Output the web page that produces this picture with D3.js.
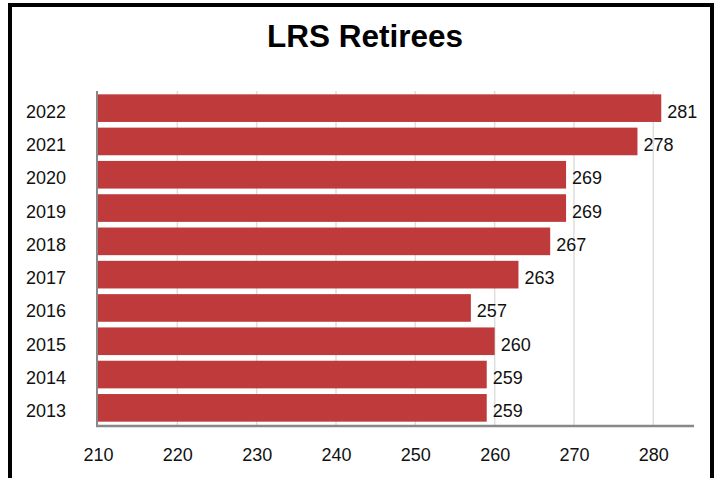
<!DOCTYPE html>
<html>
<head>
<meta charset="utf-8">
<script src="https://cdn.jsdelivr.net/npm/d3@7"></script>
<style>
  html, body { margin: 0; padding: 0; background: #fff; }
  svg { display: block; font-family: "Liberation Sans", Arial, sans-serif; }
</style>
</head>
<body>
<svg id="chart" width="718" height="478"></svg>
<script>
// Retiree counts by year
const years = ["2013", "2014", "2015", "2016", "2017", "2018", "2019", "2020", "2021", "2022"];
const retirees = [259, 259, 260, 257, 263, 267, 269, 269, 278, 281];
const xTicks = [210, 220, 230, 240, 250, 260, 270, 280];
const title = "LRS Retirees";

const data = years.map((y, i) => ({ year: y, value: retirees[i] }));

const svg = d3.select("#chart");

// Outer frame (open at the bottom edge of the page)
svg.append("rect")
  .attr("x", 10).attr("y", 5)
  .attr("width", 702).attr("height", 500)
  .attr("fill", "none")
  .attr("stroke", "#000")
  .attr("stroke-width", 4);

svg.append("text")
  .attr("x", 365).attr("y", 47)
  .attr("text-anchor", "middle")
  .attr("font-size", 31.5)
  .attr("font-weight", "bold")
  .attr("fill", "#000")
  .text(title);

const plotLeft = 98, plotRight = 693, plotTop = 91, plotBottom = 425;

const x = d3.scaleLinear().domain([210, 285]).range([plotLeft, plotRight]);
const y = d3.scaleBand().domain(years).range([plotBottom, plotTop])
  .paddingInner(0.17).paddingOuter(0.1);

// Vertical gridlines
svg.append("g")
  .selectAll("line")
  .data(xTicks.slice(1))
  .join("line")
  .attr("x1", d => x(d)).attr("x2", d => x(d))
  .attr("y1", plotTop).attr("y2", plotBottom)
  .attr("stroke", "#dedede")
  .attr("stroke-width", 1.5);

// Bars
svg.append("g")
  .selectAll("rect")
  .data(data)
  .join("rect")
  .attr("x", x(210))
  .attr("y", d => y(d.year))
  .attr("width", d => x(d.value) - x(210))
  .attr("height", y.bandwidth())
  .attr("fill", "#bf3a3a");

// Value labels
svg.append("g")
  .selectAll("text")
  .data(data)
  .join("text")
  .attr("x", d => x(d.value) + 6)
  .attr("y", d => y(d.year) + y.bandwidth() / 2 + 9.5)
  .attr("font-size", 18)
  .attr("fill", "#111")
  .text(d => d.value);

// Category axis
const yAxis = svg.append("g")
  .attr("transform", `translate(${plotLeft - 1},0)`)
  .call(d3.axisLeft(y).tickSize(0).tickPadding(31));
yAxis.select(".domain").attr("stroke", "#888").attr("stroke-width", 2)
  .attr("d", `M0,${plotTop}V${plotBottom + 2}`);
yAxis.selectAll("text")
  .attr("font-size", 18)
  .attr("fill", "#111")
  .attr("font-family", "Liberation Sans, Arial, sans-serif")
  .attr("dy", null)
  .attr("y", 9.5);

// Value axis
const xAxis = svg.append("g")
  .attr("transform", `translate(0,${plotBottom + 1})`)
  .call(d3.axisBottom(x).tickValues(xTicks).tickSize(0).tickPadding(0));
xAxis.select(".domain").attr("stroke", "#888").attr("stroke-width", 2.5)
  .attr("d", `M${plotLeft - 2},0H${plotRight + 1}`);
xAxis.selectAll("text")
  .attr("font-size", 18)
  .attr("fill", "#111")
  .attr("font-family", "Liberation Sans, Arial, sans-serif")
  .attr("dy", null)
  .attr("y", 35);
</script>
</body>
</html>
